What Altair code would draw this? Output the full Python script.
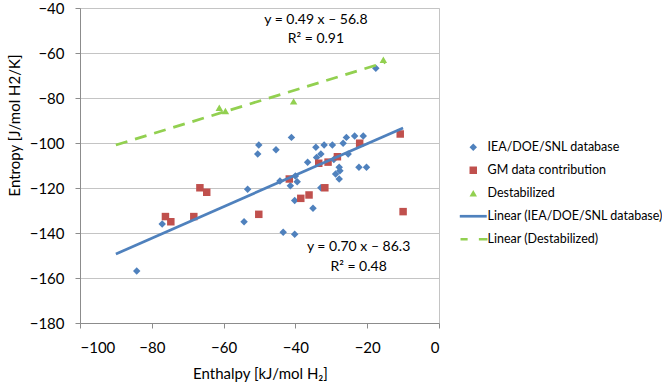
import altair as alt
import pandas as pd

# ---------------- data ----------------
S_IEA = "IEA/DOE/SNL database"
S_GM = "GM data contribution"
S_DES = "Destabilized"
S_LIN_IEA = "Linear (IEA/DOE/SNL database)"
S_LIN_DES = "Linear (Destabilized)"

iea_x = [-84.2, -77.1, -54.3, -53.3, -50.2, -50.5, -45.4, -44.3, -43.4, -41.1,
         -41.4, -40.2, -40.0, -39.5, -40.2, -36.6, -35.1, -34.3, -34.1, -32.9,
         -32.9, -32.0, -29.7, -29.3, -27.8, -27.6, -28.8, -27.8, -26.7, -25.8,
         -25.3, -23.5, -22.3, -21.1, -20.2, -17.6]
iea_y = [-156.9, -136.0, -135.0, -120.6, -100.9, -104.9, -103.0, -116.9, -139.7, -97.5,
         -119.0, -140.6, -114.7, -117.2, -125.6, -108.6, -129.0, -101.9, -106.4, -104.9,
         -119.9, -100.9, -100.9, -107.3, -110.8, -112.3, -113.8, -116.0, -100.1, -97.5,
         -104.9, -96.9, -110.8, -96.9, -110.8, -66.8]

gm_x = [-76.2, -74.7, -68.3, -66.6, -64.7, -50.2, -41.7, -38.5, -36.2, -33.5,
        -31.8, -30.9, -28.3, -22.1, -10.8, -10.0]
gm_y = [-132.7, -135.0, -132.7, -119.9, -121.9, -131.7, -116.0, -124.6, -123.1, -109.0,
        -119.9, -108.5, -106.1, -100.1, -96.0, -130.5]

des_x = [-61.2, -59.5, -40.5, -15.5]
des_y = [-84.3, -85.8, -81.5, -63.0]

# trendline end points (as drawn)
lin_iea_x = [-90, -10]
lin_iea_y = [-149.3, -93.3]
lin_des_x = [-90, -15]
lin_des_y = [-100.9, -64.2]

ann_x = [-34.3, -34.3, -22.4, -22.4]
ann_y = [-45.3, -53.8, -146.2, -155.1]
ann_text = ["y = 0.49 x – 56.8", "R² = 0.91", "y = 0.70 x – 86.3", "R² = 0.48"]

x_ticks = [-100, -80, -60, -40, -20, 0]
y_ticks = [-180, -160, -140, -120, -100, -80, -60, -40]

series_order = [S_IEA, S_GM, S_DES, S_LIN_IEA, S_LIN_DES]

# ---------------- tables ----------------
points = pd.concat([
    pd.DataFrame({"x": iea_x, "y": iea_y, "series": S_IEA}),
    pd.DataFrame({"x": gm_x, "y": gm_y, "series": S_GM}),
    pd.DataFrame({"x": des_x, "y": des_y, "series": S_DES}),
], ignore_index=True)

lin_iea = pd.DataFrame({"x": lin_iea_x, "y": lin_iea_y})
lin_des = pd.DataFrame({"x": lin_des_x, "y": lin_des_y})
ann = pd.DataFrame({"x": ann_x, "y": ann_y, "text": ann_text})

# ---------------- style ----------------
FONT = "Lato"
FS = 15
BLUE = "#4F81BD"
RED = "#C0504D"
GREEN = "#92D050"
GRID = "#c4c4c4"
AXIS = "#8c8c8c"

LINE_PATH = "M-3.6,-0.36H3.6V0.36H-3.6Z"
DASH_PATH = "M-3.4,-0.36H-1.5V0.36H-3.4Z M1.5,-0.36H3.8V0.36H1.5Z"

x_scale = alt.Scale(domain=[-100, 0], nice=False, zero=False)
y_scale = alt.Scale(domain=[-180, -40], nice=False, zero=False)

x_axis = alt.Axis(values=x_ticks, grid=False, title="Enthalpy [kJ/mol H₂]",
                  titleX=180, titleY=50, titleBaseline="middle", titleAlign="center")
y_axis = alt.Axis(values=y_ticks, grid=True, title="Entropy [J/mol H2/K]",
                  titleX=-66, titleY=117, titleAngle=-90, titleBaseline="middle",
                  titleAlign="center")

legend = alt.Legend(title=None, orient="none", legendX=387, legendY=133,
                    symbolSize=56, labelFont=FONT, labelFontSize=12.5,
                    labelColor="black", labelOffset=8, rowPadding=10,
                    padding=0, symbolStrokeWidth=0, labelLimit=400)

pts = alt.Chart(points).mark_point(filled=True, opacity=1, size=56).encode(
    x=alt.X("x:Q", scale=x_scale, axis=x_axis),
    y=alt.Y("y:Q", scale=y_scale, axis=y_axis),
    color=alt.Color("series:N",
                    scale=alt.Scale(domain=series_order,
                                    range=[BLUE, RED, GREEN, BLUE, GREEN]),
                    legend=legend),
    shape=alt.Shape("series:N",
                    scale=alt.Scale(domain=series_order,
                                    range=["diamond", "square", "triangle-up",
                                           LINE_PATH, DASH_PATH]),
                    legend=legend),
)

line_iea = alt.Chart(lin_iea).mark_line(color=BLUE, strokeWidth=2.75).encode(
    x=alt.X("x:Q", scale=x_scale), y=alt.Y("y:Q", scale=y_scale))
line_des = alt.Chart(lin_des).mark_line(color=GREEN, strokeWidth=2.75,
                                        strokeDash=[12, 8]).encode(
    x=alt.X("x:Q", scale=x_scale), y=alt.Y("y:Q", scale=y_scale))

txt = alt.Chart(ann).mark_text(font=FONT, fontSize=14, color="black",
                               align="center", baseline="middle").encode(
    x=alt.X("x:Q", scale=x_scale), y=alt.Y("y:Q", scale=y_scale), text="text:N")

chart = alt.layer(pts, line_iea, line_des, txt).properties(
    width=359, height=315,
    autosize=alt.AutoSizeParams(type="none"),
    padding={"left": 80, "top": 8, "right": 223, "bottom": 64},
).configure_view(
    stroke=GRID, strokeWidth=1
).configure_axis(
    labelFont=FONT, labelFontSize=FS, labelColor="black",
    titleFont=FONT, titleFontSize=FS, titleColor="black", titleFontWeight="normal",
    domainColor=AXIS, tickColor=AXIS, tickSize=5,
    gridColor=GRID, gridWidth=1,
).configure_axisX(labelPadding=12).configure_axisY(labelPadding=11)

chart.save("out.html", embed_options={"renderer": "svg", "actions": False})
